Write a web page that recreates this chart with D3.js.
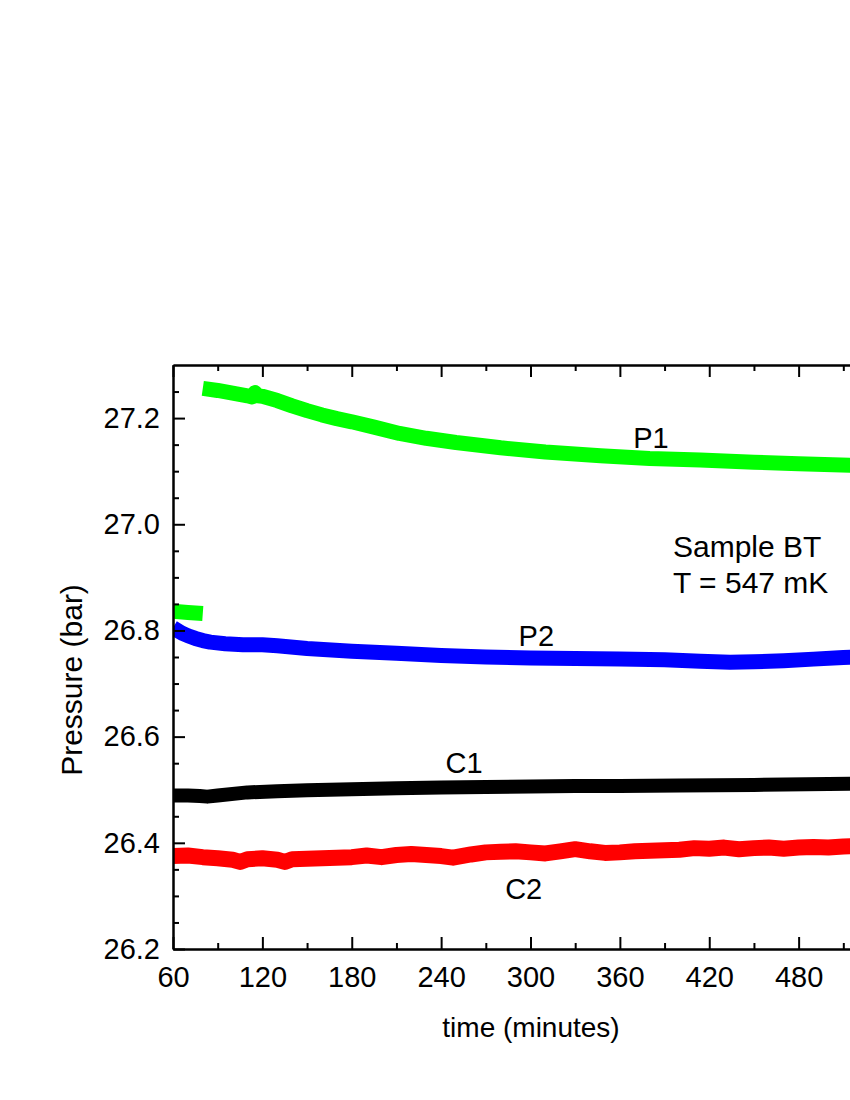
<!DOCTYPE html>
<meta charset="utf-8">
<style>
    body { margin: 0; background: #fff; }
    svg text { font-family: "Liberation Sans", Arial, sans-serif; fill: #000; }
    .axis path, .axis line { stroke: #000; stroke-width: 2; }
    .series { fill: none; stroke-linejoin: round; stroke-linecap: butt; }
</style>
<svg width="850" height="1100"></svg>
<script src="https://d3js.org/d3.v7.min.js"></script>
<script>

    // time in minutes, pressure in bar
    var p1Early = { t: [60, 70, 80], p: [26.836, 26.834, 26.832] };
    var p1 = {
        t: [80, 90, 100, 110, 113, 115, 117, 120, 130, 140, 150, 160, 170, 180, 195, 212, 230, 250, 280, 310, 347, 380, 414, 450, 480, 515, 540],
        p: [27.256, 27.252, 27.247, 27.242, 27.240, 27.248, 27.242, 27.241, 27.233, 27.223, 27.214, 27.206, 27.199, 27.193, 27.183, 27.171, 27.162, 27.154, 27.144, 27.136, 27.129, 27.124, 27.121, 27.117, 27.114, 27.111, 27.110]
    };
    var p2 = {
        t: [60, 63, 66, 70, 75, 80, 85, 95, 107, 120, 130, 150, 180, 210, 240, 270, 300, 330, 360, 390, 414, 434, 450, 470, 490, 510, 540],
        p: [26.805, 26.800, 26.795, 26.790, 26.785, 26.781, 26.778, 26.775, 26.773, 26.773, 26.771, 26.766, 26.761, 26.757, 26.753, 26.750, 26.748, 26.747, 26.746, 26.745, 26.742, 26.740, 26.741, 26.743, 26.746, 26.749, 26.751]
    };
    var c1 = {
        t: [60, 70, 78, 83, 90, 110, 130, 150, 180, 210, 240, 270, 300, 330, 360, 400, 450, 500, 540],
        p: [26.489, 26.489, 26.488, 26.487, 26.489, 26.495, 26.497, 26.499, 26.501, 26.503, 26.504, 26.505, 26.506, 26.507, 26.507, 26.508, 26.509, 26.511, 26.512]
    };
    var c2 = {
        t: [60, 70, 80, 90, 100, 105, 110, 120, 130, 135, 140, 150, 160, 170, 180, 190, 200, 210, 220, 230, 240, 248, 260, 270, 280, 290, 300, 310, 320, 330, 340, 350, 360, 370, 380, 390, 400, 410, 420, 430, 440, 450, 460, 470, 480, 490, 500, 510, 520, 540],
        p: [26.375, 26.376, 26.373, 26.371, 26.368, 26.364, 26.369, 26.371, 26.368, 26.364, 26.369, 26.370, 26.371, 26.372, 26.373, 26.376, 26.373, 26.377, 26.379, 26.377, 26.375, 26.372, 26.378, 26.382, 26.383, 26.384, 26.382, 26.380, 26.384, 26.388, 26.384, 26.381, 26.382, 26.384, 26.385, 26.386, 26.387, 26.390, 26.389, 26.391, 26.388, 26.390, 26.391, 26.389, 26.391, 26.392, 26.391, 26.393, 26.394, 26.395]
    };

    var xMajor = [60, 120, 180, 240, 300, 360, 420, 480];
    var xMinor = [90, 150, 210, 270, 330, 390, 450, 510];
    var yMajor = [26.2, 26.4, 26.6, 26.8, 27.0, 27.2];
    var yMinor = [26.25, 26.3, 26.35, 26.45, 26.5, 26.55, 26.65, 26.7, 26.75, 26.85, 26.9, 26.95, 27.05, 27.1, 27.15, 27.25];

    var labels = [
        { text: "P1", t: 369, p: 27.144 },
        { text: "P2", t: 292, p: 26.771 },
        { text: "C1", t: 243, p: 26.532 },
        { text: "C2", t: 283, p: 26.294 }
    ];

    var svg = d3.select("svg"),
        plotLeft = 173, plotRight = 888, plotTop = 365, plotBottom = 949;

    var x = d3.scaleLinear().domain([60, 540]).range([plotLeft, plotRight]);
    var y = d3.scaleLinear().domain([26.2, 27.3]).range([plotBottom, plotTop]);

    svg.append("clipPath").attr("id", "plot")
        .append("rect").attr("x", plotLeft).attr("y", plotTop)
        .attr("width", plotRight - plotLeft).attr("height", plotBottom - plotTop);

    var line = d3.line()
        .x(function(d) { return x(d[0]); })
        .y(function(d) { return y(d[1]); });

    function pairs(s) { return s.t.map(function(t, i) { return [t, s.p[i]]; }); }

    var series = [
        { s: p1Early, color: "#00ff00", w: 15 },
        { s: p1, color: "#00ff00", w: 15 },
        { s: p2, color: "#0000ff", w: 15 },
        { s: c1, color: "#000000", w: 14 },
        { s: c2, color: "#ff0000", w: 16 }
    ];

    var g = svg.append("g").attr("clip-path", "url(#plot)");
    g.selectAll("path")
        .data(series)
        .enter().append("path")
        .attr("class", "series")
        .attr("stroke", function(d) { return d.color; })
        .attr("stroke-width", function(d) { return d.w; })
        .attr("d", function(d) { return line(pairs(d.s)); });

    // axes: major and minor ticks, pointing inward
    function draw(axis, tx, ty) {
        var a = svg.append("g").attr("class", "axis")
            .attr("transform", "translate(" + tx + "," + ty + ")")
            .call(axis);
        a.selectAll("text").style("font-size", "29px");
        return a;
    }

    draw(d3.axisBottom(x).tickValues(xMinor).tickSize(-6).tickSizeOuter(0).tickFormat(""), 0, plotBottom);
    draw(d3.axisBottom(x).tickValues(xMajor).tickSize(-12).tickSizeOuter(0).tickPadding(17)
        .tickFormat(d3.format("d")), 0, plotBottom);
    draw(d3.axisTop(x).tickValues(xMinor).tickSize(-6).tickSizeOuter(0).tickFormat(""), 0, plotTop);
    draw(d3.axisTop(x).tickValues(xMajor).tickSize(-12).tickSizeOuter(0).tickFormat(""), 0, plotTop);

    draw(d3.axisLeft(y).tickValues(yMinor).tickSize(-6).tickSizeOuter(0).tickFormat(""), plotLeft, 0);
    draw(d3.axisLeft(y).tickValues(yMajor).tickSize(-12).tickSizeOuter(0).tickPadding(13)
        .tickFormat(d3.format(".1f")), plotLeft, 0);
    draw(d3.axisRight(y).tickValues(yMinor).tickSize(-6).tickSizeOuter(0).tickFormat(""), plotRight, 0);
    draw(d3.axisRight(y).tickValues(yMajor).tickSize(-12).tickSizeOuter(0).tickFormat(""), plotRight, 0);

    svg.append("text")
        .attr("x", 531).attr("y", 1037)
        .attr("text-anchor", "middle")
        .style("font-size", "28px")
        .text("time (minutes)");

    svg.append("text")
        .attr("transform", "translate(82,680) rotate(-90)")
        .attr("text-anchor", "middle")
        .style("font-size", "30px")
        .text("Pressure (bar)");

    svg.selectAll(".lbl")
        .data(labels)
        .enter().append("text")
        .attr("class", "lbl")
        .attr("x", function(d) { return x(d.t); })
        .attr("y", function(d) { return y(d.p); })
        .style("font-size", "29px")
        .text(function(d) { return d.text; });

    svg.append("text")
        .attr("x", 673).attr("y", 557)
        .style("font-size", "30px")
        .text("Sample BT");
    svg.append("text")
        .attr("x", 673).attr("y", 593)
        .style("font-size", "30px")
        .text("T = 547 mK");

</script>
